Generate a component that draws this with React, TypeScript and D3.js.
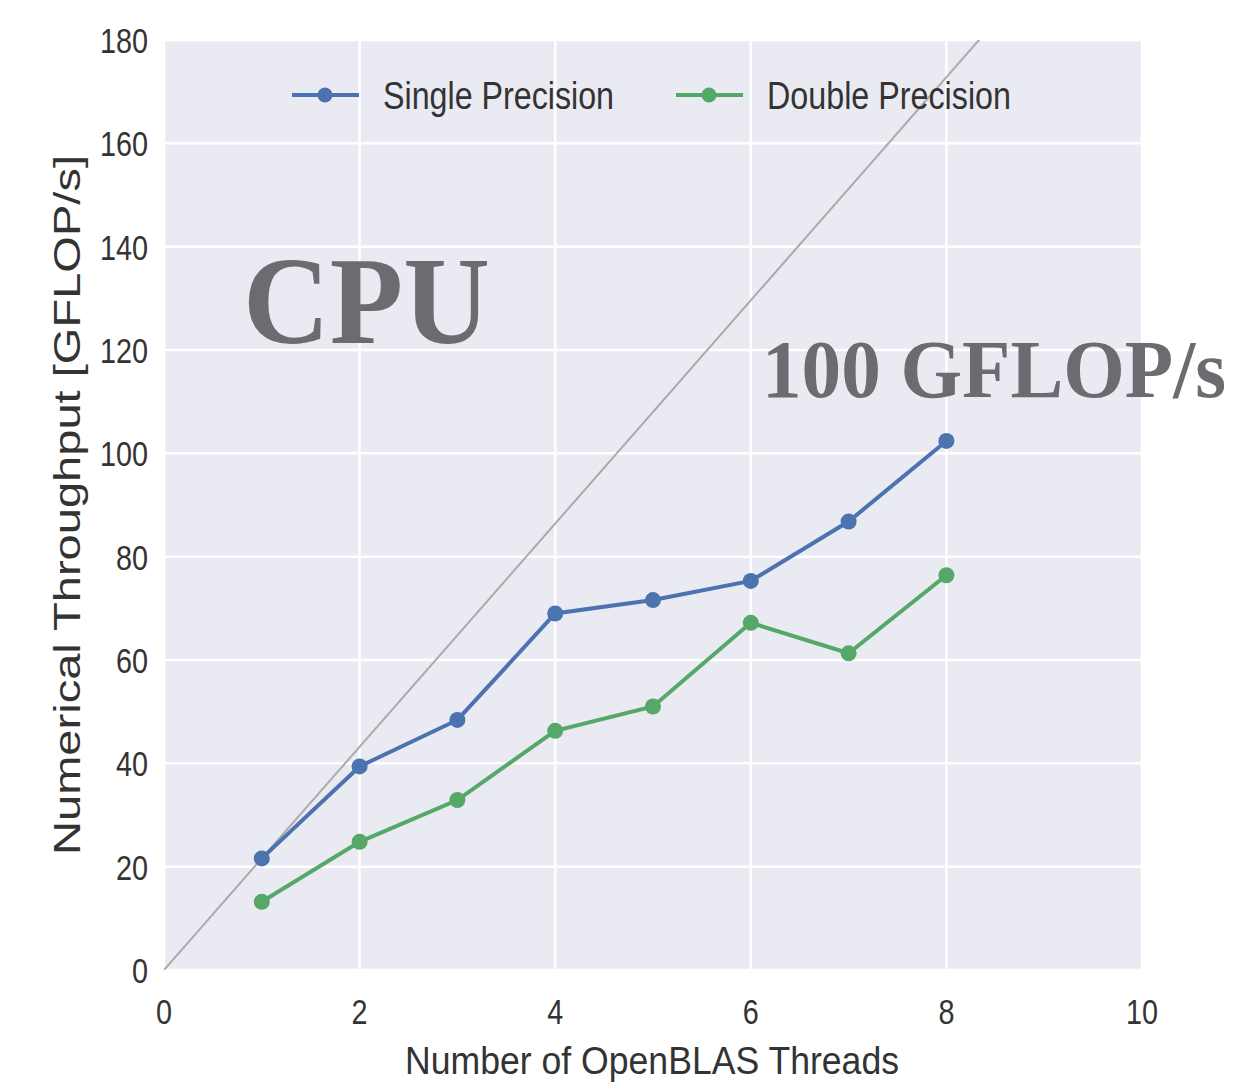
import React from "react";
import * as d3 from "d3";

// Threads used by OpenBLAS
const threads = [1, 2, 3, 4, 5, 6, 7, 8];
// Measured throughput in GFLOP/s
const singlePrecision = [21.6, 39.4, 48.4, 69.0, 71.6, 75.3, 86.8, 102.4];
const doublePrecision = [13.2, 24.8, 32.9, 46.3, 51.0, 67.2, 61.3, 76.4];
const xTicks = [0, 2, 4, 6, 8, 10];
const yTicks = [0, 20, 40, 60, 80, 100, 120, 140, 160, 180];
const seriesNames = ["Single Precision", "Double Precision"];

const W = 1246;
const H = 1083;
const plot = { left: 164, right: 1142, top: 40, bottom: 970 };

export default function App() {
  const x = d3.scaleLinear().domain([0, 10]).range([plot.left, plot.right]);
  const y = d3.scaleLinear().domain([0, 180]).range([plot.bottom, plot.top]);

  const line = d3
    .line<[number, number]>()
    .x((d) => x(d[0]))
    .y((d) => y(d[1]));

  const series = [
    { name: seriesNames[0], values: singlePrecision, color: "#4c72b0" },
    { name: seriesNames[1], values: doublePrecision, color: "#55a868" },
  ];

  // Ideal linear scaling from the single-thread single-precision rate
  const perThread = singlePrecision[0];
  const ideal: [number, number][] = [
    [0, 0],
    [10, 10 * perThread],
  ];

  const tickFont = { fontFamily: "Liberation Sans, Arial, sans-serif", fontSize: 36, fill: "#333" };

  return (
    <svg
      width={W}
      height={H}
      style={{ position: "absolute", left: 0, top: 0, background: "#fff" }}
    >
      <defs>
        <clipPath id="plotClip">
          <rect x={plot.left} y={plot.top} width={plot.right - plot.left} height={plot.bottom - plot.top} />
        </clipPath>
      </defs>
      <rect
        x={plot.left}
        y={plot.top}
        width={plot.right - plot.left}
        height={plot.bottom - plot.top}
        fill="#eaeaf2"
      />
      {/* grid */}
      {yTicks.map((t) => (
        <line key={"gy" + t} x1={plot.left} x2={plot.right} y1={y(t)} y2={y(t)} stroke="#fff" strokeWidth={2.5} />
      ))}
      {xTicks.map((t) => (
        <line key={"gx" + t} x1={x(t)} x2={x(t)} y1={plot.top} y2={plot.bottom} stroke="#fff" strokeWidth={2.5} />
      ))}

      {/* tick labels */}
      {yTicks.map((t) => (
        <g key={"ty" + t} transform={`translate(148,${y(t) + 13}) scale(0.8,1)`}>
          <text textAnchor="end" {...tickFont}>
            {t}
          </text>
        </g>
      ))}
      {xTicks.map((t) => (
        <g key={"tx" + t} transform={`translate(${x(t)},${1024}) scale(0.8,1)`}>
          <text textAnchor="middle" {...tickFont}>
            {t}
          </text>
        </g>
      ))}

      {/* axis titles */}
      <text
        x={652}
        y={1074}
        textAnchor="middle"
        fontFamily="Liberation Sans, Arial, sans-serif"
        fontSize={38}
        fill="#333"
        textLength={494}
        lengthAdjust="spacingAndGlyphs"
      >
        Number of OpenBLAS Threads
      </text>
      <text
        transform="translate(80,505) rotate(-90)"
        textAnchor="middle"
        fontFamily="Liberation Sans, Arial, sans-serif"
        fontSize={36}
        fill="#333"
        textLength={700}
        lengthAdjust="spacingAndGlyphs"
      >
        Numerical Throughput [GFLOP/s]
      </text>

      <g clipPath="url(#plotClip)">
        <path d={line(ideal) ?? ""} fill="none" stroke="#aaaaaa" strokeWidth={2} />
        {series.map((s) => {
          const pts: [number, number][] = threads.map((t, i) => [t, s.values[i]]);
          return (
            <g key={s.name}>
              <path d={line(pts) ?? ""} fill="none" stroke={s.color} strokeWidth={4} />
              {pts.map((p, i) => (
                <circle key={i} cx={x(p[0])} cy={y(p[1])} r={8} fill={s.color} />
              ))}
            </g>
          );
        })}
      </g>

      {/* legend */}
      {series.map((s, i) => {
        const lx = i === 0 ? 292 : 676;
        const tw = i === 0 ? 231 : 244;
        return (
          <g key={"lg" + s.name}>
            <line x1={lx} x2={lx + 67} y1={95} y2={95} stroke={s.color} strokeWidth={4} />
            <circle cx={lx + 33} cy={95} r={7.5} fill={s.color} />
            <text
              x={lx + 91}
              y={109}
              fontFamily="Liberation Sans, Arial, sans-serif"
              fontSize={38}
              fill="#333"
              textLength={tw}
              lengthAdjust="spacingAndGlyphs"
            >
              {s.name}
            </text>
          </g>
        );
      })}

      {/* annotations */}
      <text
        x={243}
        y={343}
        fontFamily="Liberation Serif, Times New Roman, serif"
        fontWeight="bold"
        fontSize={124}
        fill="#6b6b70"
        textLength={247}
        lengthAdjust="spacingAndGlyphs"
      >
        CPU
      </text>
      <text
        x={762}
        y={397}
        fontFamily="Liberation Serif, Times New Roman, serif"
        fontWeight="bold"
        fontSize={82}
        fill="#6b6b70"
        textLength={464}
        lengthAdjust="spacingAndGlyphs"
      >
        100 GFLOP/s
      </text>
    </svg>
  );
}
